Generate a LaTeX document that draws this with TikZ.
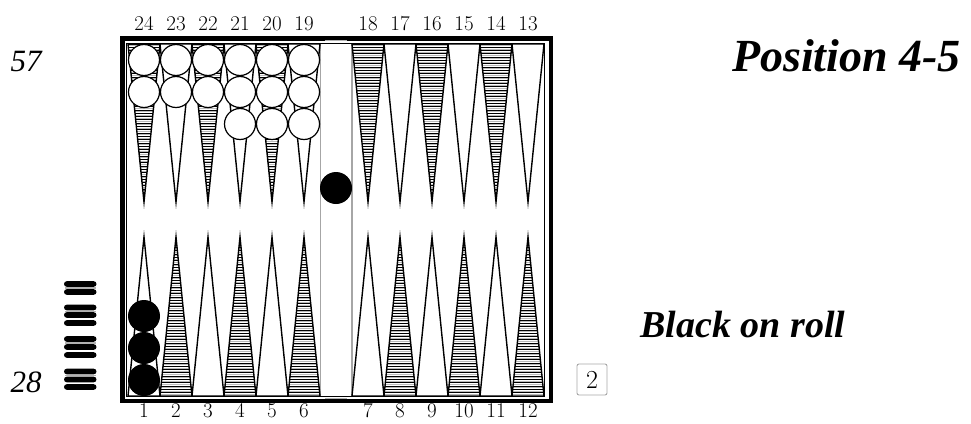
\documentclass[tikz,border=0pt]{standalone}
\usepackage{fontspec}
\newfontfamily\timesfont{Liberation Serif}
\begin{document}
\begin{tikzpicture}[x=1pt,y=-1pt,
  pt/.style={draw=black, line width=1.4pt, line join=miter},
  wchk/.style={circle, draw=black, fill=white, line width=1.2pt, minimum size=31pt, inner sep=0pt},
  bchk/.style={circle, fill=black, minimum size=32pt, inner sep=0pt},
  lbl/.style={font=\fontsize{21}{21}\selectfont, anchor=base, inner sep=0pt},
  pipbar/.style={fill=black, rounded corners=2.8pt},
  hline/.style={black, line width=0.9pt},
  gline/.style={gray!55, line width=0.9pt}]
\useasboundingbox (0,0) rectangle (971,423);
% board frame
\draw[line width=4.5pt] (122.25,38.25) rectangle (550.75,400.75);
\draw[gray!60, line width=1.2pt] (325,40.5) -- (347,40.5);
\draw[gray!60, line width=1.2pt] (325,398.5) -- (347,398.5);
\draw[line width=1pt] (126.5,43.5) rectangle (544,396);
% bar
\draw[gray!70, line width=1.2pt] (320.5,43.5) -- (320.5,396);
\draw[gray!70, line width=1.2pt] (352,43.5) -- (352,396);
% top points
\foreach \side in {128,352} {
  \foreach \k in {0,...,5} {
    \pgfmathsetmacro\xa{\side+32*\k}
    \pgfmathsetmacro\xb{\xa+32}
    \pgfmathsetmacro\xm{\xa+16}
    \pgfmathtruncatemacro\hh{mod(\k,2)==0 ? 1 : 0}
    \ifnum\hh=1
      \begin{scope}
        \clip (\xa,44) -- (\xm,202) -- (\xb,44) -- cycle;
        \foreach \i in {0,...,48} {
          \draw[hline] (\xa,44+3.3*\i) -- (\xb,44+3.3*\i);
          \draw[gline] (\xa,45.65+3.3*\i) -- (\xb,45.65+3.3*\i);
        }
      \end{scope}
    \fi
    \draw[pt] (\xa,44) -- (\xm,202) -- (\xb,44) -- cycle;
  }
}
% bottom points
\foreach \side in {128,352} {
  \foreach \k in {0,...,5} {
    \pgfmathsetmacro\xa{\side+32*\k}
    \pgfmathsetmacro\xb{\xa+32}
    \pgfmathsetmacro\xm{\xa+16}
    \pgfmathtruncatemacro\hh{mod(\k,2)==1 ? 1 : 0}
    \ifnum\hh=1
      \begin{scope}
        \clip (\xa,396) -- (\xm,237) -- (\xb,396) -- cycle;
        \foreach \i in {0,...,48} {
          \draw[hline] (\xa,396-3.3*\i) -- (\xb,396-3.3*\i);
          \draw[gline] (\xa,394.35-3.3*\i) -- (\xb,394.35-3.3*\i);
        }
      \end{scope}
    \fi
    \draw[pt] (\xa,396) -- (\xm,237) -- (\xb,396) -- cycle;
  }
}
% white checkers
\foreach \x/\n in {144/24,176/23,208/22} {
  \node[wchk] (w\n a) at (\x,60) {};
  \node[wchk] (w\n b) at (\x,92) {};
}
\foreach \x/\n in {240/21,272/20,304/19} {
  \node[wchk] (w\n a) at (\x,60) {};
  \node[wchk] (w\n b) at (\x,92) {};
  \node[wchk] (w\n c) at (\x,124) {};
}
% black checkers
\node[bchk] (b1a) at (144,380) {};
\node[bchk] (b1b) at (144,348) {};
\node[bchk] (b1c) at (144,316) {};
\node[bchk] (bbar) at (336,188) {};
% point numbers
\foreach \k/\n in {0/24,1/23,2/22,3/21,4/20,5/19} {
  \node[lbl] (top\n) at (144+32*\k,30) {\n};
}
\foreach \k/\n in {0/18,1/17,2/16,3/15,4/14,5/13} {
  \node[lbl] (top\n) at (368+32*\k,30) {\n};
}
\foreach \k/\n in {0/1,1/2,2/3,3/4,4/5,5/6} {
  \node[lbl] (bot\n) at (144+32*\k,417) {\n};
}
\foreach \k/\n in {0/7,1/8,2/9,3/10,4/11,5/12} {
  \node[lbl] (bot\n) at (368+32*\k,417) {\n};
}
% borne-off checkers
\foreach \y in {284,292,307.5,315,323,339,347,355,371.5,379.5,387} {
  \fill[pipbar] (64,\y-2.8) rectangle (96.5,\y+2.8);
}
\foreach \y in {288,311.25,343,375.5} {
  \draw[gray!60, line width=1.2pt] (65,\y) -- (95.5,\y);
}
% pip counts
\node[font=\timesfont\itshape\fontsize{31}{31}\selectfont, anchor=base, inner sep=0pt] (pipw) at (26,71) {57};
\node[font=\timesfont\itshape\fontsize{31}{31}\selectfont, anchor=base, inner sep=0pt] (pipb) at (26,392.5) {28};
% title and caption
\node[font=\timesfont\bfseries\itshape\fontsize{46}{46}\selectfont, anchor=base, inner sep=0pt] (title) at (846.5,71) {Position 4-5};
\node[font=\timesfont\bfseries\itshape\fontsize{38}{38}\selectfont, anchor=base, inner sep=0pt] (roll) at (743,337) {Black on roll};
% cube
\draw[gray!70, line width=0.9pt, rounded corners=2pt] (577,364) rectangle (607,395);
\node[font=\fontsize{26}{26}\selectfont, anchor=base, inner sep=0pt] (cube) at (592,388.5) {2};
\end{tikzpicture}
\end{document}
